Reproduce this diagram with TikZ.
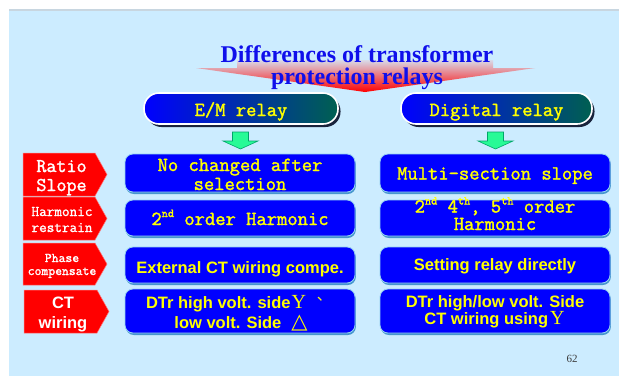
\documentclass[tikz,border=0pt]{standalone}
\usepackage{fontspec}
\setmainfont{Liberation Serif}
\setsansfont{Liberation Sans}
\newfontfamily\relaymono[FakeBold=1.6]{Latin Modern Mono}
\newfontfamily\symbolfont{DejaVu Sans}
\newfontfamily\cjkfont{Noto Sans CJK SC}
\usetikzlibrary{shadows}

\definecolor{pagewhite}{RGB}{255,255,255}
\definecolor{bgblue}{RGB}{204,236,255}
\definecolor{topline}{RGB}{200,214,224}
\definecolor{boxblue}{RGB}{0,0,255}
\definecolor{boxrim}{RGB}{150,210,240}
\definecolor{boxshade}{RGB}{70,150,205}
\definecolor{pillteal}{RGB}{0,96,80}
\definecolor{pillshadow}{RGB}{25,35,60}
\definecolor{txtyellow}{RGB}{255,255,0}
\definecolor{arrowgreen}{RGB}{40,250,150}
\definecolor{arrowedge}{RGB}{0,165,105}
\definecolor{titleblue}{RGB}{15,15,235}
\definecolor{titlefade}{RGB}{216,218,232}
\definecolor{labelred}{RGB}{255,0,0}
\definecolor{labelrim}{RGB}{255,120,120}
\definecolor{pagegray}{RGB}{60,60,60}

% superscript for ordinal suffixes
\newcommand\supx[1]{\raisebox{0.4em}{\fontsize{12}{12}\selectfont #1}}

\begin{document}
\begin{tikzpicture}[x=1pt,y=-1pt,
  cell/.style={rounded corners=8pt, fill=boxblue, draw=boxrim, line width=0.8pt,
    minimum width=230pt, inner sep=0pt,
    drop shadow={shadow xshift=0.8pt, shadow yshift=-2pt, fill=boxshade, opacity=1}},
  pill/.style={rounded corners=15pt, draw=white, line width=1.6pt,
    left color=boxblue, right color=pillteal, minimum height=31pt, inner sep=0pt,
    drop shadow={shadow xshift=2.5pt, shadow yshift=-3pt, fill=pillshadow, opacity=1}},
  monoY/.style={text=txtyellow, inner sep=0pt, anchor=base,
    font=\relaymono\fontsize{20}{20}\selectfont},
  sansY/.style={text=txtyellow, inner sep=0pt, anchor=base,
    font=\sffamily\bfseries\fontsize{16.5}{16.5}\selectfont},
  tagtext/.style={text=white, inner sep=0pt, anchor=base},
  tagshape/.style={fill=labelred, draw=labelrim, line width=0.5pt},
  greenarrow/.style={fill=arrowgreen, draw=arrowedge, line width=0.6pt},
]
\useasboundingbox (0,0) rectangle (619,376);

% slide background
\fill[pagewhite] (0,0) rectangle (619,376);
\fill[bgblue] (9,11) rectangle (619,376);
\fill[topline] (9,9) rectangle (619,11);

% title with the red arrow behind it
\shade[top color=titlefade, bottom color=labelred]
  (237,60) -- (493,60) -- (493,68) -- (535,68) -- (365,92) -- (196,68) -- (237,68) -- cycle;
\node[font=\bfseries\fontsize{24}{24}\selectfont, text=titleblue, inner sep=0pt, anchor=base]
  (title1) at (357,62) {Differences of transformer};
\node[font=\bfseries\fontsize{24}{24}\selectfont, text=titleblue, inner sep=0pt, anchor=base]
  (title2) at (357,84) {protection relays};

% column headers
\node[pill, minimum width=194pt] (emhead) at (241,108.5) {};
\node[pill, minimum width=191pt] (dghead) at (496.5,108.5) {};
\node[monoY] (emtext) at (241,116) {E/M relay};
\node[monoY] (dgtext) at (496.5,116) {Digital relay};

% arrows pointing down to each column
\draw[greenarrow, shift={(240.5,0)}]
  (-8,132) -- (8,132) -- (8,141) -- (17.5,141) -- (0,149) -- (-17.5,141) -- (-8,141) -- cycle;
\draw[greenarrow, shift={(495.5,0)}]
  (-8,132) -- (8,132) -- (8,141) -- (17.5,141) -- (0,149) -- (-17.5,141) -- (-8,141) -- cycle;

% row labels
\fill[tagshape] (23,153) -- (95,153) -- (107,174.5) -- (95,196) -- (23,196) -- cycle;
\fill[tagshape] (23,197) -- (95,197) -- (107,218.5) -- (95,240) -- (23,240) -- cycle;
\fill[tagshape] (23,243) -- (95,243) -- (107,264) -- (95,285) -- (23,285) -- cycle;
\fill[tagshape] (24,290) -- (97,290) -- (109,311.5) -- (97,333) -- (24,333) -- cycle;

\node[tagtext, font=\relaymono\fontsize{19.5}{19.5}\selectfont] (ratio) at (61.5,172) {Ratio};
\node[tagtext, font=\relaymono\fontsize{19.5}{19.5}\selectfont] (slope) at (61.5,191) {Slope};
\node[tagtext, font=\relaymono\fontsize{14.8}{14.8}\selectfont] (harm) at (62,216) {Harmonic};
\node[tagtext, font=\relaymono\fontsize{14.8}{14.8}\selectfont] (restr) at (62,232) {restrain};
\node[tagtext, font=\relaymono\fontsize{13.3}{13.3}\selectfont] (phase) at (62,262) {Phase};
\node[tagtext, font=\relaymono\fontsize{13.3}{13.3}\selectfont] (comp) at (62,275) {compensate};
\node[tagtext, font=\sffamily\bfseries\fontsize{16.5}{16.5}\selectfont] (ct) at (63,308) {CT};
\node[tagtext, font=\sffamily\bfseries\fontsize{16.5}{16.5}\selectfont] (wiring) at (63,328) {wiring};

% comparison cells
\node[cell, minimum height=38pt] (slopeL) at (240,173) {};
\node[cell, minimum height=38pt] (slopeR) at (495,173) {};
\node[cell, minimum height=36pt] (harmL) at (240,218) {};
\node[cell, minimum height=36pt] (harmR) at (495,218) {};
\node[cell, minimum height=36pt] (phaseL) at (240,265) {};
\node[cell, minimum height=36pt] (phaseR) at (495,265) {};
\node[cell, minimum height=44pt] (wireL) at (240,311) {};
\node[cell, minimum height=44pt] (wireR) at (495,311) {};

% cell texts
\node[monoY] (slopeL1) at (240,171) {No changed after};
\node[monoY] (slopeL2) at (240,190) {selection};
\node[monoY] (slopeR1) at (495,179.5) {Multi-section slope};

\node[monoY] (harmL1) at (240,225) {2\supx{nd} order Harmonic};
\node[monoY] (harmR1) at (495,212.5) {2\supx{nd} 4\supx{th}, 5\supx{th} order};
\node[monoY] (harmR2) at (495,230) {Harmonic};

\node[sansY] (phaseL1) at (240,273) {External CT wiring compe.};
\node[sansY] (phaseR1) at (495,270) {Setting relay directly};

\node[sansY] (wireL1) at (239,308) {DTr high volt. side\hspace{1pt}{\rmfamily\mdseries\fontsize{20}{20}\selectfont Y}\hspace{11pt}\raisebox{0.45em}{\cjkfont\mdseries\fontsize{15}{15}\selectfont 、}};
\node[sansY] (wireL2) at (241,328) {low volt. Side\hspace{10pt}{\symbolfont\mdseries\fontsize{21}{21}\selectfont △}};
\node[sansY] (wireR1) at (495,307) {DTr high/low volt. Side};
\node[sansY] (wireR2) at (494.5,324) {CT wiring using\hspace{2pt}{\rmfamily\mdseries\fontsize{20}{20}\selectfont Y}};

% page number
\node[font=\fontsize{11}{11}\selectfont, text=pagegray, inner sep=0pt, anchor=base] (pagenum) at (572,362) {62};
\end{tikzpicture}
\end{document}
